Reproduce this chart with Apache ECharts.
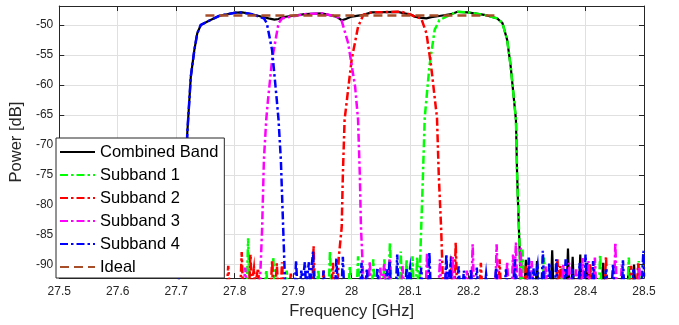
<!DOCTYPE html>
<html><head><meta charset="utf-8">
<script src="https://cdn.jsdelivr.net/npm/echarts@6/dist/echarts.min.js"></script>
<style>html,body{margin:0;padding:0;background:#fff}#c{width:679px;height:325px}</style>
</head><body><div id="c"></div>
<script>
// ---- data (frequency GHz, power dB); -93.5 = off-scale low (below axis floor) ----
const xTickValues = [27.5, 27.6, 27.7, 27.8, 27.9, 28.0, 28.1, 28.2, 28.3, 28.4, 28.5];
const yTickValues = [-90, -85, -80, -75, -70, -65, -60, -55, -50];
const seriesNames = ['Combined Band', 'Subband 1', 'Subband 2', 'Subband 3', 'Subband 4', 'Ideal'];

const combinedBand = [
[27.700,-97],[27.712,-85],[27.719,-68],[27.725,-58.6],[27.731,-54.2],[27.736,-51.4],[27.742,-50.0],[27.745,-49.7],[27.756,-49.3],[27.773,-48.5],[27.787,-48.2],[27.801,-47.95],[27.813,-47.9],[27.830,-48.2],[27.850,-48.7],[27.858,-48.9],[27.868,-49.1],[27.875,-49.0],[27.881,-48.7],[27.920,-48.2],[27.949,-48.05],[27.974,-48.6],[27.983,-49.2],[27.990,-49.0],[28.000,-48.6],[28.020,-48.3],[28.034,-47.9],[28.079,-47.8],[28.102,-48.3],[28.108,-48.6],[28.119,-48.8],[28.128,-48.9],[28.136,-48.7],[28.150,-48.5],[28.170,-48.2],[28.181,-47.8],[28.198,-47.9],[28.227,-48.3],[28.249,-48.9],[28.258,-49.7],[28.266,-52.5],[28.272,-56.9],[28.281,-65.8],[28.283,-75],[28.286,-83.8],[28.289,-92.5],[28.292,-93.5],
[28.296,-93.5],[28.298,-89.2],[28.300,-93.5],
[28.315,-93.5],[28.317,-89.4],[28.319,-93.5],
[28.341,-93.5],[28.343,-87.6],[28.345,-93.5],
[28.368,-93.5],[28.370,-87.3],[28.372,-93.5],
[28.376,-93.5],[28.378,-88.7],[28.380,-93.5],
[28.389,-93.5],[28.391,-88.3],[28.393,-93.5],
[28.401,-93.5],[28.403,-89.7],[28.405,-93.5],
[28.428,-93.5],[28.430,-89.7],[28.432,-93.5],
[28.472,-93.5],[28.474,-90.3],[28.476,-93.5],
[28.481,-93.5],[28.483,-90.0],[28.485,-93.5],
[28.500,-93.5]
];

const subband1 = [
[27.700,-93.5],
[27.821,-93.5],[27.823,-85.6],[27.825,-93.5],
[27.852,-93.5],[27.854,-90.9],[27.856,-93.5],
[27.864,-93.5],[27.866,-88.7],[27.868,-93.5],
[27.887,-93.5],[27.889,-91.0],[27.891,-93.5],
[27.941,-93.5],[27.943,-90.8],[27.945,-93.5],
[27.961,-93.5],[27.963,-87.7],[27.965,-93.5],
[27.995,-93.5],[27.997,-90.2],[27.999,-93.5],
[28.009,-93.5],[28.011,-88.6],[28.013,-93.5],
[28.035,-93.5],[28.037,-89.1],[28.039,-93.5],
[28.054,-93.5],[28.056,-89.1],[28.058,-93.5],
[28.063,-93.5],[28.0655,-86.3],[28.068,-93.5],
[28.082,-93.5],[28.084,-87.8],[28.086,-93.5],
[28.092,-93.5],[28.094,-89.1],[28.096,-93.5],
[28.102,-93.5],[28.104,-88.6],[28.106,-93.5],
[28.110,-93.5],[28.112,-88.7],[28.114,-93.5],
[28.116,-92.5],[28.119,-83.8],[28.122,-75],[28.125,-65.5],[28.133,-56.9],[28.142,-50.8],[28.150,-49.2],[28.170,-48.2],[28.181,-47.8],[28.198,-47.9],[28.227,-48.3],[28.249,-48.9],[28.258,-49.7],[28.266,-52.5],[28.272,-56.9],[28.281,-65.8],[28.283,-75],[28.286,-83.8],[28.289,-92.5],[28.290,-93.5],[28.292,-87.5],[28.295,-93.5],
[28.327,-93.5],[28.329,-88.8],[28.331,-93.5],
[28.358,-93.5],[28.360,-90.6],[28.362,-93.5],
[28.423,-93.5],[28.425,-88.3],[28.427,-93.5],
[28.472,-93.5],[28.474,-88.8],[28.476,-93.5],
[28.489,-93.5],[28.491,-89.4],[28.493,-93.5],
[28.500,-93.5]
];

const subband2 = [
[27.700,-93.5],
[27.787,-93.5],[27.789,-90.2],[27.791,-93.5],
[27.810,-93.5],[27.812,-87.9],[27.814,-93.5],
[27.825,-93.5],[27.827,-88.3],[27.829,-93.5],
[27.831,-93.5],[27.833,-90.6],[27.835,-93.5],
[27.838,-93.5],[27.840,-90.6],[27.842,-93.5],
[27.862,-93.5],[27.864,-89.4],[27.866,-93.5],
[27.870,-93.5],[27.872,-89.8],[27.874,-93.5],
[27.879,-93.5],[27.881,-89.6],[27.883,-93.5],
[27.894,-93.5],[27.896,-91.5],[27.898,-93.5],
[27.933,-93.5],[27.935,-86.9],[27.937,-93.5],
[27.950,-93.5],[27.952,-91.0],[27.954,-93.5],
[27.966,-93.5],[27.968,-89.7],[27.970,-93.5],
[27.976,-93.5],[27.978,-88.8],[27.983,-83.8],[27.985,-75],[27.988,-65.8],[28.000,-55.8],[28.011,-50.3],[28.020,-48.3],[28.034,-47.9],[28.079,-47.8],[28.085,-47.8],[28.102,-48.3],[28.108,-48.6],[28.119,-48.9],[28.128,-51.4],[28.136,-56.9],[28.146,-65.5],[28.149,-75],[28.153,-83.8],[28.156,-92.5],[28.159,-93.5],
[28.168,-93.5],[28.170,-88.6],[28.172,-93.5],
[28.176,-93.5],[28.178,-86.3],[28.180,-93.5],
[28.219,-93.5],[28.221,-89.7],[28.223,-93.5],
[28.251,-93.5],[28.253,-89.1],[28.255,-93.5],
[28.296,-93.5],[28.298,-90.2],[28.300,-93.5],
[28.350,-93.5],[28.352,-89.1],[28.354,-93.5],
[28.355,-93.5],[28.357,-90.2],[28.359,-93.5],
[28.406,-93.5],[28.408,-89.9],[28.410,-93.5],
[28.433,-93.5],[28.435,-88.6],[28.437,-93.5],
[28.476,-93.5],[28.478,-90.2],[28.480,-93.5],
[28.488,-93.5],[28.490,-89.8],[28.492,-93.5],
[28.500,-93.5]
];

const subband3 = [
[27.700,-93.5],
[27.816,-93.5],[27.818,-90.5],[27.820,-93.5],
[27.838,-93.5],[27.8435,-92.5],[27.847,-83.8],[27.850,-72.5],[27.854,-65.8],[27.857,-62.5],[27.864,-55.8],[27.875,-49.7],[27.881,-48.9],[27.920,-48.2],[27.949,-48.05],[27.974,-48.6],[27.983,-49.3],[27.994,-53],[28.006,-60.3],[28.011,-65.8],[28.014,-75],[28.016,-83.8],[28.020,-92.5],[28.023,-93.5],
[28.029,-93.5],[28.031,-89.4],[28.033,-93.5],
[28.047,-93.5],[28.049,-90.5],[28.051,-93.5],
[28.054,-93.5],[28.056,-89.9],[28.058,-93.5],
[28.063,-93.5],[28.065,-89.0],[28.067,-93.5],
[28.085,-93.5],[28.087,-90.2],[28.089,-93.5],
[28.127,-93.5],[28.129,-88.0],[28.131,-93.5],
[28.149,-93.5],[28.151,-89.1],[28.153,-93.5],
[28.160,-93.5],[28.162,-89.1],[28.164,-93.5],
[28.171,-93.5],[28.173,-88.7],[28.175,-93.5],
[28.195,-93.5],[28.197,-91.0],[28.199,-93.5],
[28.205,-93.5],[28.207,-86.6],[28.209,-93.5],
[28.246,-93.5],[28.248,-86.6],[28.250,-93.5],
[28.264,-93.5],[28.266,-89.5],[28.268,-93.5],
[28.274,-93.5],[28.276,-88.3],[28.278,-93.5],
[28.279,-93.5],[28.281,-86.3],[28.283,-93.5],
[28.287,-93.5],[28.289,-87.2],[28.291,-93.5],
[28.301,-93.5],[28.303,-89.0],[28.305,-93.5],
[28.306,-93.5],[28.308,-89.4],[28.310,-93.5],
[28.330,-93.5],[28.332,-90.3],[28.334,-93.5],
[28.360,-93.5],[28.362,-89.9],[28.364,-93.5],
[28.370,-93.5],[28.372,-89.7],[28.374,-93.5],
[28.382,-93.5],[28.384,-90.8],[28.386,-93.5],
[28.393,-93.5],[28.395,-88.9],[28.397,-93.5],
[28.403,-93.5],[28.405,-89.4],[28.407,-93.5],
[28.414,-93.5],[28.416,-88.8],[28.418,-93.5],
[28.449,-93.5],[28.451,-86.3],[28.453,-93.5],
[28.460,-93.5],[28.462,-90.0],[28.464,-93.5],
[28.490,-93.5],[28.492,-90.5],[28.494,-93.5],
[28.500,-93.5]
];

const subband4 = [
[27.700,-97],[27.712,-85],[27.719,-68],[27.725,-58.6],[27.731,-54.2],[27.736,-51.4],[27.742,-50.0],[27.745,-49.7],[27.756,-49.3],[27.773,-48.5],[27.787,-48.2],[27.801,-47.95],[27.813,-47.9],[27.830,-48.2],[27.850,-48.9],[27.855,-49.7],[27.864,-54.2],[27.872,-62.5],[27.875,-65.8],[27.879,-72.5],[27.883,-84],[27.886,-92.5],[27.889,-93.5],
[27.903,-93.5],[27.905,-89.3],[27.907,-93.5],
[27.912,-93.5],[27.914,-91.0],[27.916,-93.5],
[27.918,-93.5],[27.920,-89.6],[27.922,-93.5],
[27.925,-93.5],[27.927,-89.6],[27.929,-93.5],
[27.932,-93.5],[27.934,-87.8],[27.936,-93.5],
[27.950,-93.5],[27.952,-91.0],[27.954,-93.5],
[27.972,-93.5],[27.974,-88.9],[27.976,-93.5],
[27.983,-93.5],[27.985,-88.7],[27.987,-93.5],
[28.015,-93.5],[28.017,-89.7],[28.019,-93.5],
[28.024,-93.5],[28.026,-90.6],[28.028,-93.5],
[28.042,-93.5],[28.044,-90.5],[28.046,-93.5],
[28.058,-93.5],[28.060,-90.8],[28.062,-93.5],
[28.063,-93.5],[28.065,-89.5],[28.067,-93.5],
[28.076,-93.5],[28.078,-88.3],[28.080,-93.5],
[28.092,-93.5],[28.094,-90.5],[28.096,-93.5],
[28.098,-93.5],[28.100,-90.6],[28.102,-93.5],
[28.117,-93.5],[28.119,-90.5],[28.121,-93.5],
[28.131,-93.5],[28.133,-88.0],[28.135,-93.5],
[28.160,-93.5],[28.162,-88.3],[28.164,-93.5],
[28.167,-93.5],[28.169,-90.2],[28.171,-93.5],
[28.181,-93.5],[28.183,-90.3],[28.185,-93.5],
[28.190,-93.5],[28.192,-91.0],[28.194,-93.5],
[28.202,-93.5],[28.204,-90.8],[28.206,-93.5],
[28.212,-93.5],[28.214,-90.5],[28.216,-93.5],
[28.228,-93.5],[28.230,-91.6],[28.232,-93.5],
[28.245,-93.5],[28.247,-90.5],[28.249,-93.5],
[28.262,-93.5],[28.264,-90.8],[28.266,-93.5],
[28.277,-93.5],[28.279,-89.1],[28.281,-93.5],
[28.301,-93.5],[28.303,-88.8],[28.305,-93.5],
[28.309,-93.5],[28.311,-90.6],[28.313,-93.5],
[28.316,-93.5],[28.318,-90.2],[28.320,-93.5],
[28.325,-93.5],[28.327,-87.7],[28.329,-93.5],
[28.336,-93.5],[28.338,-89.7],[28.340,-93.5],
[28.348,-93.5],[28.350,-89.1],[28.352,-93.5],
[28.364,-93.5],[28.366,-89.1],[28.368,-93.5],
[28.376,-93.5],[28.378,-90.7],[28.380,-93.5],
[28.388,-93.5],[28.390,-89.7],[28.392,-93.5],
[28.398,-93.5],[28.400,-88.3],[28.402,-93.5],
[28.411,-93.5],[28.413,-89.4],[28.415,-93.5],
[28.433,-93.5],[28.435,-90.8],[28.437,-93.5],
[28.445,-93.5],[28.447,-89.9],[28.449,-93.5],
[28.462,-93.5],[28.464,-89.3],[28.466,-93.5],
[28.480,-93.5],[28.482,-90.8],[28.484,-93.5],
[28.496,-93.5],[28.499,-87.7],[28.500,-92]
];

const ideal = [[27.750,-48.4],[28.250,-48.4]];

// ---- chart ----
const FONT = "'Liberation Sans', Arial, Helvetica, sans-serif";
const AX = '#262626';
const chart = echarts.init(document.getElementById('c'), null, {renderer: 'canvas'});

function lineSeries(name, data, color, type, width, z) {
  return {
    name, type: 'line', data, symbol: 'none', showSymbol: false, animation: false,
    clip: true, z,
    lineStyle: {color, width, type, cap: 'butt', join: 'miter'},
    itemStyle: {color},
    emphasis: {disabled: true}
  };
}
const dashDot = [8, 3, 2.5, 3];

chart.setOption({
  backgroundColor: '#fff',
  animation: false,
  grid: {left: 56, right: 35, top: 6, bottom: 46.5, containLabel: false},
  xAxis: [{
    type: 'value', min: 27.5, max: 28.5, interval: 0.1, position: 'bottom',
    name: 'Frequency [GHz]', nameLocation: 'middle', nameGap: 24,
    nameTextStyle: {fontFamily: FONT, fontSize: 16.5, color: AX},
    axisLine: {show: true, onZero: false, lineStyle: {color: AX, width: 1}},
    axisTick: {show: true, inside: true, length: 5, lineStyle: {color: AX}},
    axisLabel: {fontFamily: FONT, fontSize: 12, color: AX, margin: 8,
      customValues: xTickValues, formatter: v => String(+v.toFixed(1))},
    splitLine: {show: true, lineStyle: {color: '#e0e0e0', width: 1}}
  }, {
    type: 'value', min: 27.5, max: 28.5, interval: 0.1, position: 'top',
    axisLine: {show: true, onZero: false, lineStyle: {color: AX, width: 1}},
    axisTick: {show: true, inside: true, length: 5, lineStyle: {color: AX}},
    axisLabel: {show: false}, splitLine: {show: false}
  }],
  yAxis: [{
    type: 'value', min: -92.25, max: -46.83, position: 'left',
    name: 'Power [dB]', nameLocation: 'middle', nameGap: 28, nameRotate: 90,
    nameTextStyle: {fontFamily: FONT, fontSize: 16.5, color: AX},
    axisLine: {show: true, onZero: false, lineStyle: {color: AX, width: 1}},
    axisTick: {show: true, inside: true, length: 5, customValues: yTickValues, lineStyle: {color: AX}},
    axisLabel: {fontFamily: FONT, fontSize: 12, color: AX, margin: 6, customValues: yTickValues},
    splitLine: {show: true, lineStyle: {color: '#e0e0e0', width: 1}}
  }, {
    type: 'value', min: -92.25, max: -46.83, position: 'right',
    axisLine: {show: true, onZero: false, lineStyle: {color: AX, width: 1}},
    axisTick: {show: true, inside: true, length: 5, customValues: yTickValues, lineStyle: {color: AX}},
    axisLabel: {show: false}, splitLine: {show: false}
  }],
  legend: {
    show: true, orient: 'vertical', left: 56, top: 138,
    data: seriesNames, selectedMode: false,
    itemWidth: 35, itemHeight: 20, itemGap: 3,
    padding: [4, 6, 1, 3],
    backgroundColor: '#fff', borderColor: AX, borderWidth: 1, borderRadius: 0,
    itemStyle: {opacity: 0},
    textStyle: {fontFamily: FONT, fontSize: 16.5, color: '#000', lineHeight: 20},
    z: 10
  },
  series: [
    lineSeries(seriesNames[0], combinedBand, '#000000', 'solid', 2.2, 2),
    lineSeries(seriesNames[1], subband1, '#00ff00', dashDot, 2.5, 3),
    lineSeries(seriesNames[2], subband2, '#ff0000', dashDot, 2.5, 3),
    lineSeries(seriesNames[3], subband3, '#ff00ff', dashDot, 2.5, 3),
    lineSeries(seriesNames[4], subband4, '#0000ff', dashDot, 2.5, 3),
    lineSeries(seriesNames[5], ideal, '#a84f2a', [9, 5], 2.5, 4)
  ]
});
</script></body></html>
